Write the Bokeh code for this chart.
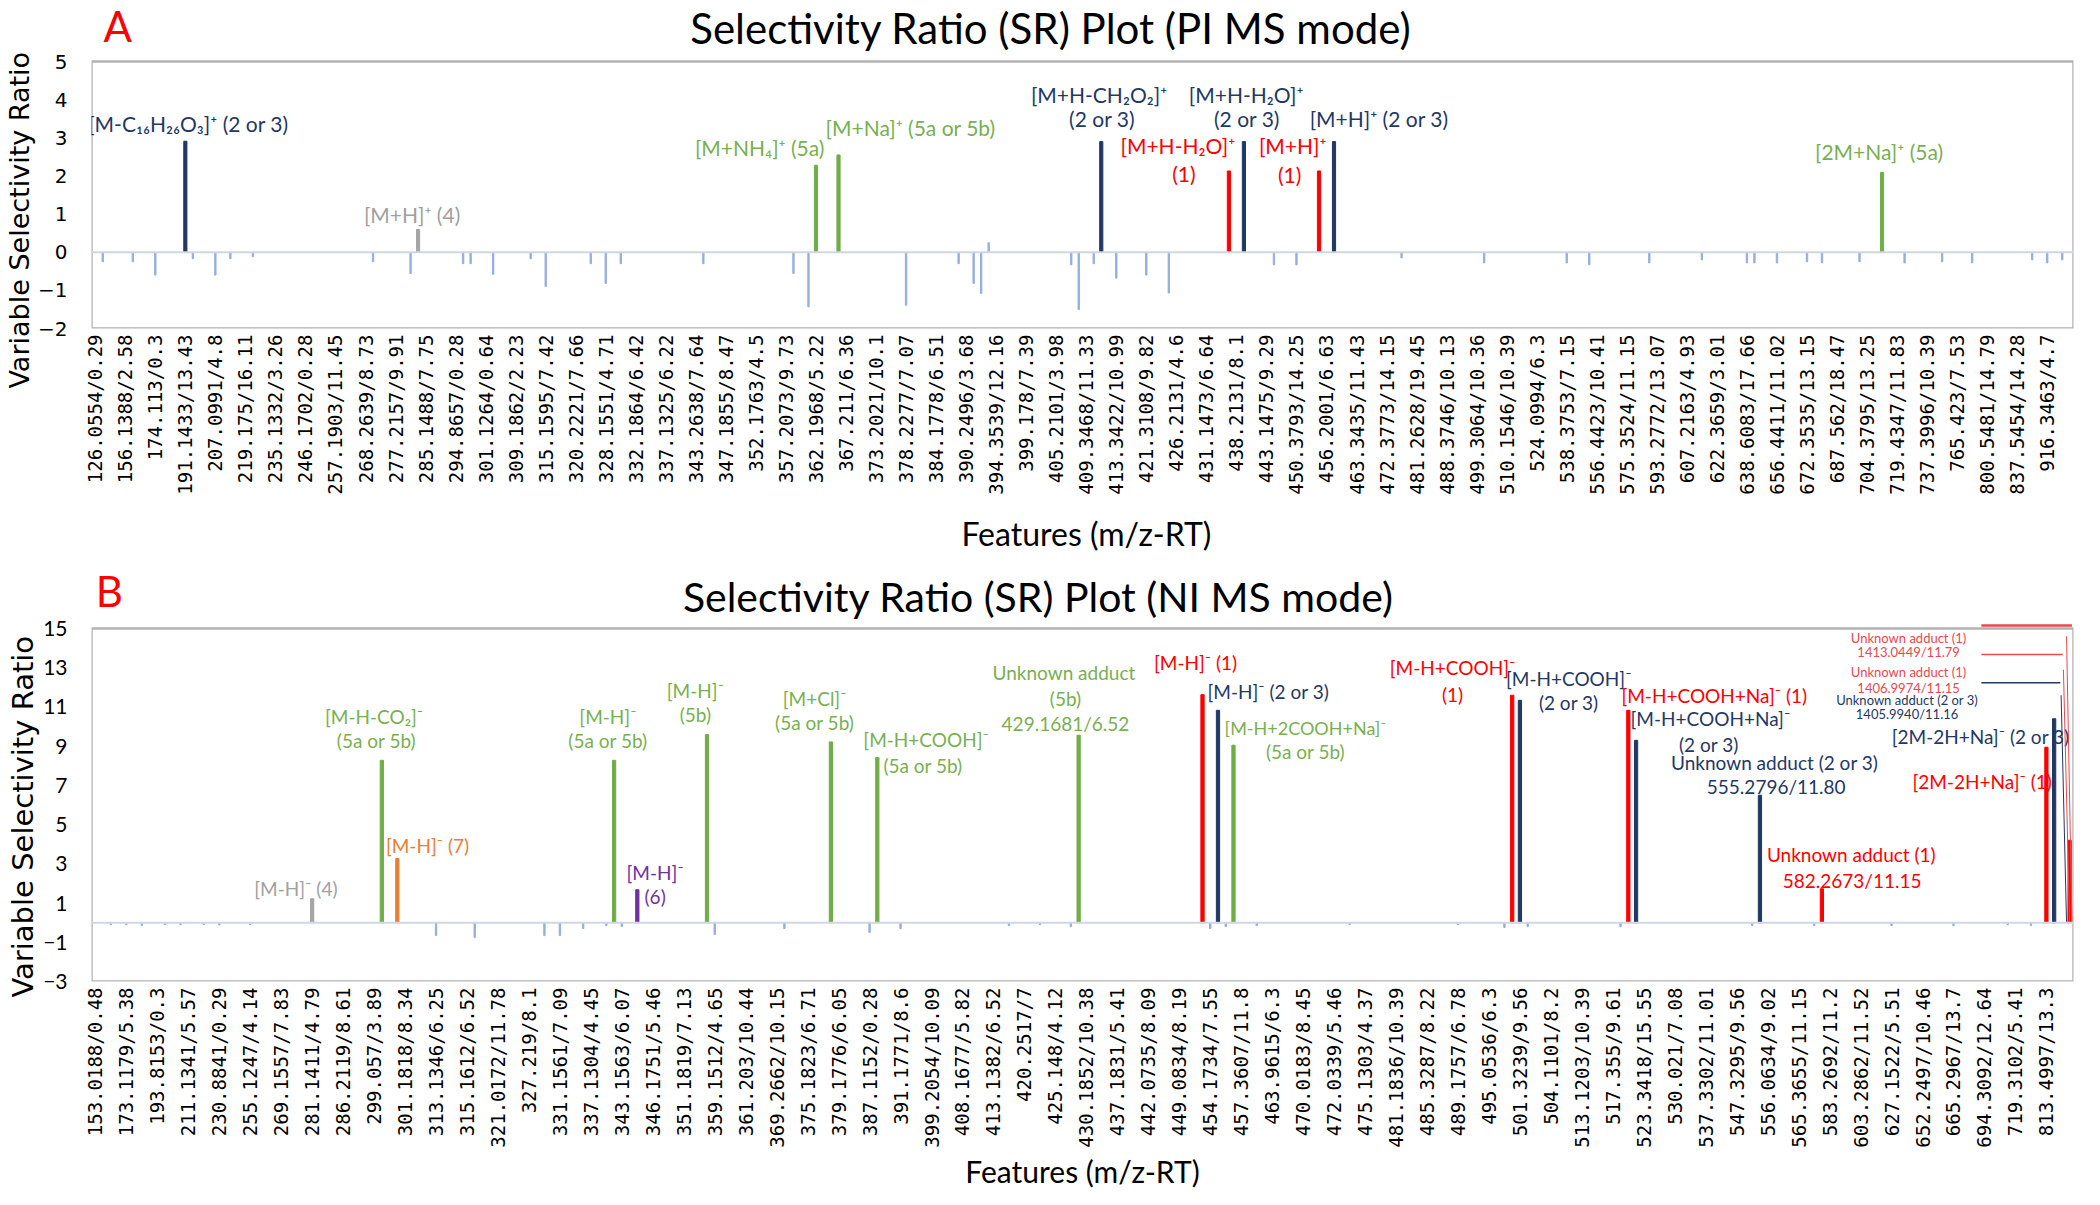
import math
from bokeh.plotting import figure
from bokeh.layouts import column
from bokeh.models import Range1d, FixedTicker, ColumnDataSource, Span, BoxAnnotation, Title
from bokeh.embed import file_html
from bokeh.resources import INLINE
from bokeh.core.properties import value

# ------------------------------------------------------------------ data: panel A (PI)
a_tick_labels = [
    "126.0554/0.29", "156.1388/2.58", "174.113/0.3", "191.1433/13.43", "207.0991/4.8",
    "219.175/16.11", "235.1332/3.26", "246.1702/0.28", "257.1903/11.45", "268.2639/8.73",
    "277.2157/9.91", "285.1488/7.75", "294.8657/0.28", "301.1264/0.64", "309.1862/2.23",
    "315.1595/7.42", "320.2221/7.66", "328.1551/4.71", "332.1864/6.42", "337.1325/6.22",
    "343.2638/7.64", "347.1855/8.47", "352.1763/4.5", "357.2073/9.73", "362.1968/5.22",
    "367.211/6.36", "373.2021/10.1", "378.2277/7.07", "384.1778/6.51", "390.2496/3.68",
    "394.3539/12.16", "399.178/7.39", "405.2101/3.98", "409.3468/11.33", "413.3422/10.99",
    "421.3108/9.82", "426.2131/4.6", "431.1473/6.64", "438.2131/8.1", "443.1475/9.29",
    "450.3793/14.25", "456.2001/6.63", "463.3435/11.43", "472.3773/14.15", "481.2628/19.45",
    "488.3746/10.13", "499.3064/10.36", "510.1546/10.39", "524.0994/6.3", "538.3753/7.15",
    "556.4423/10.41", "575.3524/11.15", "593.2772/13.07", "607.2163/4.93", "622.3659/3.01",
    "638.6083/17.66", "656.4411/11.02", "672.3535/13.15", "687.562/18.47", "704.3795/13.25",
    "719.4347/11.83", "737.3996/10.39", "765.423/7.53", "800.5481/14.79", "837.5454/14.28",
    "916.3463/4.7",
]
a_n_features = 264
a_peak_idx = [12, 43, 96, 99, 134, 151, 153, 163, 165, 238]
a_peak_val = [2.91, 0.60, 2.28, 2.55, 2.90, 2.13, 2.90, 2.13, 2.90, 2.09]
a_peak_grp = ["2or3", "4", "5", "5", "2or3", "1", "2or3", "1", "2or3", "5"]
a_minor_idx = [1, 5, 8, 13, 16, 18, 21, 37, 42, 49, 50, 53, 58, 60, 66, 68, 70, 81, 93, 95,
               108, 115, 117, 118, 119, 130, 131, 133, 136, 140, 143, 157, 160, 174, 185,
               196, 199, 207, 214, 220, 221, 224, 228, 230, 235, 241, 246, 250, 258, 260, 262]
a_minor_val = [-0.25, -0.25, -0.6, -0.17, -0.6, -0.17, -0.12, -0.25, -0.56, -0.3, -0.3, -0.58,
               -0.17, -0.9, -0.3, -0.82, -0.3, -0.3, -0.56, -1.43, -1.39, -0.3, -0.82, -1.08,
               0.25, -0.33, -1.5, -0.3, -0.68, -0.6, -1.07, -0.33, -0.33, -0.15, -0.28,
               -0.28, -0.33, -0.28, -0.2, -0.28, -0.28, -0.28, -0.25, -0.28, -0.25, -0.28,
               -0.25, -0.28, -0.2, -0.28, -0.2]

# ------------------------------------------------------------------ data: panel B (NI)
b_tick_labels = [
    "153.0188/0.48", "173.1179/5.38", "193.8153/0.3", "211.1341/5.57", "230.8841/0.29",
    "255.1247/4.14", "269.1557/7.83", "281.1411/4.79", "286.2119/8.61", "299.057/3.89",
    "301.1818/8.34", "313.1346/6.25", "315.1612/6.52", "321.0172/11.78", "327.219/8.1",
    "331.1561/7.09", "337.1304/4.45", "343.1563/6.07", "346.1751/5.46", "351.1819/7.13",
    "359.1512/4.65", "361.203/10.44", "369.2662/10.15", "375.1823/6.71", "379.1776/6.05",
    "387.1152/0.28", "391.1771/8.6", "399.2054/10.09", "408.1677/5.82", "413.1382/6.52",
    "420.2517/7", "425.148/4.12", "430.1852/10.38", "437.1831/5.41", "442.0735/8.09",
    "449.0834/8.19", "454.1734/7.55", "457.3607/11.8", "463.9615/6.3", "470.0183/8.45",
    "472.0339/5.46", "475.1303/4.37", "481.1836/10.39", "485.3287/8.22", "489.1757/6.78",
    "495.0536/6.3", "501.3239/9.56", "504.1101/8.2", "513.1203/10.39", "517.355/9.61",
    "523.3418/15.55", "530.021/7.08", "537.3302/11.01", "547.3295/9.56", "556.0634/9.02",
    "565.3655/11.15", "583.2692/11.2", "603.2862/11.52", "627.1522/5.51", "652.2497/10.46",
    "665.2967/13.7", "694.3092/12.64", "719.3102/5.41", "813.4997/13.3",
]
b_n_features = 256
b_peak_idx = [28, 37, 39, 67, 70, 79, 95, 101, 127, 143, 145, 147, 183, 184, 198, 199, 215,
              223, 252, 253, 255]
b_peak_val = [1.22, 8.28, 3.27, 8.28, 1.68, 9.6, 9.22, 8.42, 9.56, 11.63, 10.83, 9.05, 11.6,
              11.34, 10.83, 9.3, 6.5, 1.73, 8.95, 10.4, 4.2]
b_peak_grp = ["4", "5", "7", "5", "6", "5", "5", "5", "5", "1", "2or3", "5", "1", "2or3", "1",
              "2or3", "2or3", "1", "1", "2or3", "1"]
b_minor_idx = [2, 4, 6, 9, 11, 14, 16, 20, 44, 49, 58, 60, 63, 66, 68, 80, 89, 100, 104, 118,
               122, 126, 144, 146, 150, 162, 176, 182, 185, 197, 214, 222, 232, 240, 247, 250]
b_minor_val = [-0.1, -0.1, -0.15, -0.1, -0.1, -0.1, -0.12, -0.1, -0.66, -0.75, -0.66, -0.66,
               -0.3, -0.15, -0.2, -0.6, -0.3, -0.5, -0.3, -0.15, -0.1, -0.2, -0.3, -0.2,
               -0.15, -0.1, -0.1, -0.25, -0.2, -0.2, -0.15, -0.15, -0.15, -0.15, -0.1, -0.15]

# ------------------------------------------------------------------ styles
BAR_COLOR = {"1": "#ff0000", "2or3": "#1f3864", "4": "#a5a5a5", "5": "#70ad47",
             "6": "#7030a0", "7": "#ed7d31", "1l": "#e8484f"}
TXT_COLOR = {"1": "#ff0000", "2or3": "#1f3864", "4": "#a0a0a0", "5": "#78b050",
             "6": "#7030a0", "7": "#ed7d31", "1l": "#e8484f", "k": "black", "A": "#ff0000"}
MINOR_COLOR = "#8faadc"
ANN_FONT = "Lato"
X_TITLE = "Features (m/z-RT)"
Y_TITLE = "Variable Selectivity Ratio"

# annotation layout (x in feature index, y in SR units, text, colour key, px size)
a_ann = [
    (3.0, 5.92, "A", "A", 42),
    (127.3, 5.87, "Selectivity Ratio (SR) Plot (PI MS mode)", "k", 42),
    (12.4, 3.37, "[M-C\u2081\u2086H\u2082\u2086O\u2083]\u207a (2 or 3)", "2or3", 21),
    (42.2, 0.99, "[M+H]\u207a (4)", "4", 21),
    (88.5, 2.74, "[M+NH\u2084]\u207a (5a)", "5", 21),
    (108.6, 3.27, "[M+Na]\u207a (5a or 5b)", "5", 21),
    (133.7, 4.13, "[M+H-CH\u2082O\u2082]\u207a", "2or3", 21),
    (134.1, 3.50, "(2 or 3)", "2or3", 21),
    (153.3, 4.13, "[M+H-H\u2082O]\u207a", "2or3", 21),
    (153.4, 3.50, "(2 or 3)", "2or3", 21),
    (171.0, 3.50, "[M+H]\u207a (2 or 3)", "2or3", 21),
    (144.2, 2.80, "[M+H-H\u2082O]\u207a", "1", 21),
    (145.0, 2.06, "(1)", "1", 21),
    (159.5, 2.80, "[M+H]\u207a", "1", 21),
    (159.1, 2.04, "(1)", "1", 21),
    (237.6, 2.64, "[2M+Na]\u207a (5a)", "5", 21),
]
b_ann = [
    (128.0, 19.84, X_TITLE, "k", 32),          # x-axis title of panel A
    (1.8, 16.94, "B", "A", 42),
    (121.8, 16.63, "Selectivity Ratio (SR) Plot (NI MS mode)", "k", 41),
    (25.9, 1.74, "[M-H]\u207b (4)", "4", 19),
    (36.0, 10.5, "[M-H-CO\u2082]\u207b", "5", 19),
    (36.3, 9.3, "(5a or 5b)", "5", 19),
    (42.9, 3.93, "[M-H]\u207b (7)", "7", 19),
    (66.2, 10.5, "[M-H]\u207b", "5", 19),
    (66.2, 9.29, "(5a or 5b)", "5", 19),
    (72.3, 2.56, "[M-H]\u207b", "6", 19),
    (72.3, 1.33, "(6)", "6", 19),
    (77.5, 11.84, "[M-H]\u207b", "5", 19),
    (77.5, 10.61, "(5b)", "5", 19),
    (92.9, 11.43, "[M+Cl]\u207b", "5", 19),
    (92.9, 10.2, "(5a or 5b)", "5", 19),
    (107.3, 9.34, "[M-H+COOH]\u207b", "5", 19),
    (106.9, 8.02, "(5a or 5b)", "5", 19),
    (125.1, 12.76, "Unknown adduct", "5", 19),
    (125.3, 11.43, "(5b)", "5", 19),
    (125.3, 10.16, "429.1681/6.52", "5", 19),
    (142.1, 13.27, "[M-H]\u207b (1)", "1", 19),
    (151.5, 11.79, "[M-H]\u207b (2 or 3)", "2or3", 19),
    (156.3, 9.95, "[M-H+2COOH+Na]\u207b", "5", 18),
    (156.3, 8.73, "(5a or 5b)", "5", 19),
    (175.3, 13.01, "[M-H+COOH]\u207b", "1", 19),
    (175.3, 11.63, "(1)", "1", 19),
    (190.3, 12.45, "[M-H+COOH]\u207b", "2or3", 19),
    (190.3, 11.23, "(2 or 3)", "2or3", 19),
    (209.1, 11.58, "[M-H+COOH+Na]\u207b (1)", "1", 19),
    (208.6, 10.41, "[M-H+COOH+Na]\u207b", "2or3", 19),
    (208.4, 9.08, "(2 or 3)", "2or3", 19),
    (216.9, 8.17, "Unknown adduct (2 or 3)", "2or3", 19),
    (217.1, 6.94, "555.2796/11.80", "2or3", 19),
    (226.8, 3.47, "Unknown adduct (1)", "1", 19),
    (226.9, 2.15, "582.2673/11.15", "1", 19),
    (243.5, 9.49, "[2M-2H+Na]\u207b (2 or 3)", "2or3", 19),
    (243.7, 7.2, "[2M-2H+Na]\u207b (1)", "1", 19),
    (234.2, 14.54, "Unknown adduct (1)", "1l", 13),
    (234.2, 13.78, "1413.0449/11.79", "1l", 13),
    (234.2, 12.80, "Unknown adduct (1)", "1l", 13),
    (234.2, 11.99, "1406.9974/11.15", "1l", 13),
    (234.0, 11.38, "Unknown adduct (2 or 3)", "2or3", 13),
    (234.0, 10.62, "1405.9940/11.16", "2or3", 13),
]
# leader lines at the right edge of panel B: (x0, y0, x1, y1, colour key, width)
b_leaders = [
    (243.6, 15.15, 255.3, 15.15, "1l", 2.5),
    (243.6, 13.67, 254.1, 13.67, "1l", 1.5),
    (243.6, 12.24, 253.8, 12.24, "2or3", 1.5),
    (254.6, 14.6, 255.3, 0.0, "1l", 1),
    (254.2, 12.9, 255.0, 0.0, "1l", 1),
    (253.9, 11.6, 254.6, 0.0, "2or3", 1),
]

W = 2084


def make_panel(height, frame_left, frame_bottom, right_border, n, labels, ymin, ymax,
               ytop_ext, ystep, x_standoff, x_font, ann, peaks, minors, ytick_font,
               ytick_size, ylab_size, ylab_offset):
    p = figure(width=W, height=height, output_backend="svg", toolbar_location=None,
               x_range=Range1d(-0.5, n - 0.5), y_range=Range1d(ymin, ytop_ext),
               min_border=0, min_border_left=frame_left, min_border_top=0,
               min_border_bottom=frame_bottom, min_border_right=right_border,
               background_fill_color="white", border_fill_color="white")
    p.grid.visible = False
    p.outline_line_color = None

    # plot box (the chart's frame); the range above it holds the panel title
    p.add_layout(BoxAnnotation(left=-0.5, right=n - 0.5, bottom=ymin, top=ymax,
                               fill_alpha=0, line_color="black", line_width=2.5))

    # x axis
    p.xaxis.ticker = FixedTicker(ticks=list(range(0, n, 4)))
    p.xaxis.major_label_overrides = {i * 4: lab for i, lab in enumerate(labels)}
    p.xaxis.major_label_orientation = math.pi / 2
    p.xaxis.major_label_text_font = "DejaVu Sans Mono"
    p.xaxis.major_label_text_font_size = x_font
    p.xaxis.major_label_text_color = "black"
    p.xaxis.major_label_standoff = x_standoff
    p.xaxis.major_tick_line_color = None
    p.xaxis.major_tick_out = 0
    p.xaxis.major_tick_in = 0
    p.xaxis.minor_tick_line_color = None
    p.xaxis.minor_tick_out = 0
    p.xaxis.axis_line_color = None

    # y axis
    p.yaxis.ticker = FixedTicker(ticks=list(range(ymin, ymax + 1, ystep)))
    p.yaxis.major_label_text_font = ytick_font
    p.yaxis.major_label_text_font_size = ytick_size
    p.yaxis.major_label_text_color = "black"
    p.yaxis.major_label_standoff = 24
    p.yaxis.major_tick_line_color = None
    p.yaxis.major_tick_out = 0
    p.yaxis.major_tick_in = 0
    p.yaxis.minor_tick_line_color = None
    p.yaxis.minor_tick_out = 0
    p.yaxis.axis_line_color = None
    p.add_layout(Title(text=Y_TITLE, align="left", offset=ylab_offset,
                       text_font="DejaVu Sans", text_font_size=ylab_size,
                       text_font_style="normal", text_color="black", standoff=2),
                 "left")

    # zero line
    p.add_layout(Span(location=0, dimension="width", line_color="#cfd6e4", line_width=2))

    # minor (small) bars
    mi, mv = minors
    p.vbar(x=mi, top=mv, bottom=0, width=0.18, color=MINOR_COLOR, alpha=0.9)

    # annotated peaks
    pi_, pv, pg = peaks
    src = ColumnDataSource(dict(x=pi_, top=pv, color=[BAR_COLOR[g] for g in pg]))
    p.vbar(x="x", top="top", bottom=0, width=0.42, color="color", source=src)

    # annotation texts (titles, panel letters, peak labels)
    asrc = ColumnDataSource(dict(
        x=[a[0] for a in ann], y=[a[1] for a in ann], text=[a[2] for a in ann],
        color=[TXT_COLOR[a[3]] for a in ann], size=["%dpx" % a[4] for a in ann]))
    p.text(x="x", y="y", text="text", text_color="color", text_font_size="size",
           text_font=value(ANN_FONT), text_align="center", text_baseline="middle",
           source=asrc)
    return p


# panel A: frame -2..5 at canvas 61..328, range extended to 6.60 (canvas 0) for the title
pA = make_panel(510, 79, 182, 0, a_n_features, a_tick_labels, -2, 5, 6.60, 1, 6, "19px",
                a_ann, (a_peak_idx, a_peak_val, a_peak_grp), (a_minor_idx, a_minor_val),
                "DejaVu Sans", "20px", "27px", -60)

# panel B: frame -3..15 at canvas 118..471, range extended to 21.02 (canvas 0)
pB = make_panel(683, 85, 212, 11, b_n_features, b_tick_labels, -3, 15, 21.02, 2, 6, "19px",
                b_ann, (b_peak_idx, b_peak_val, b_peak_grp), (b_minor_idx, b_minor_val),
                "Lato", "21px", "29px", -16)
pB.add_layout(Title(text=X_TITLE, align="center", text_font="Lato", text_font_size="30px",
                    text_font_style="normal", text_color="black", standoff=0), "below")

lsrc = ColumnDataSource(dict(
    x0=[l[0] for l in b_leaders], y0=[l[1] for l in b_leaders],
    x1=[l[2] for l in b_leaders], y1=[l[3] for l in b_leaders],
    color=[TXT_COLOR[l[4]] for l in b_leaders], w=[l[5] for l in b_leaders]))
pB.segment(x0="x0", y0="y0", x1="x1", y1="y1", line_color="color", line_width="w",
           source=lsrc)

layout = column(pA, pB, spacing=0)
open("out.html", "w").write(file_html(layout, INLINE, title="Selectivity Ratio plots"))
